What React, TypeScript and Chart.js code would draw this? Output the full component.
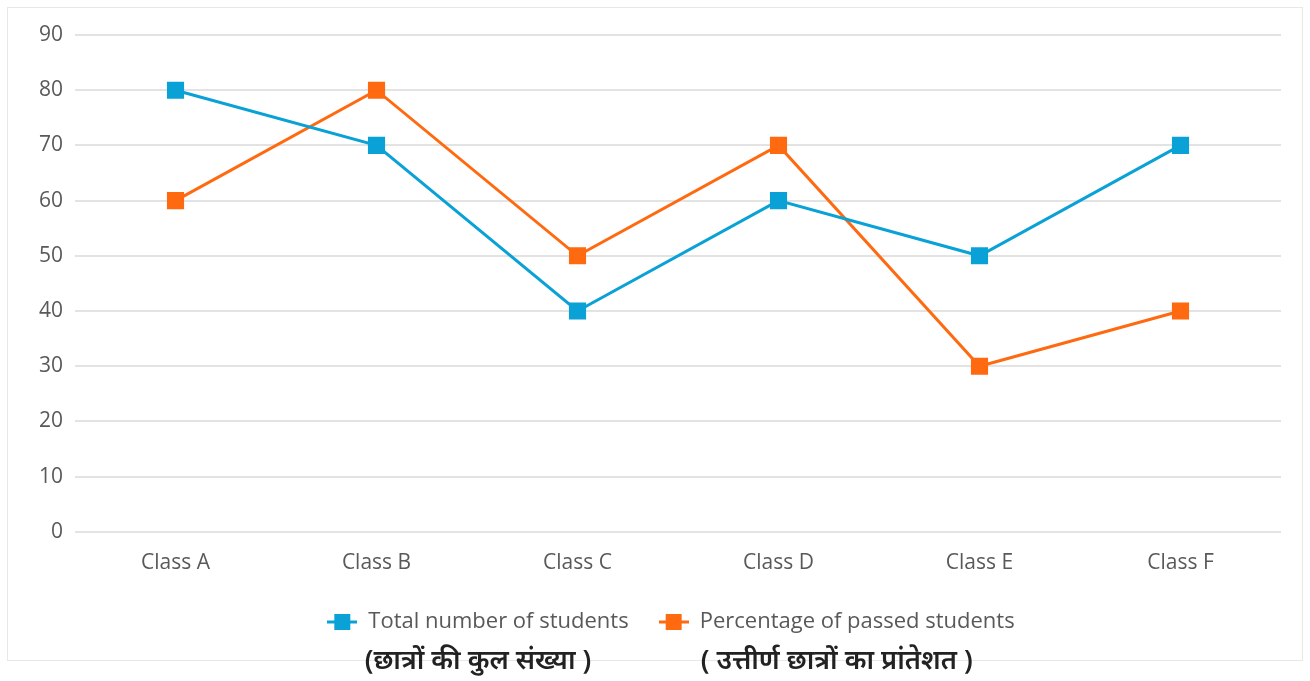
import React, { useEffect, useRef } from "react";
import { Chart, registerables } from "chart.js";

Chart.register(...registerables);

const categories = ["Class A", "Class B", "Class C", "Class D", "Class E", "Class F"];
const totalStudents = [80, 70, 40, 60, 50, 70];
const passedPercent = [60, 80, 50, 70, 30, 40];
const seriesNames = ["Total number of students", "Percentage of passed students"];
const hindiNames = ["(छात्रों की कुल संख्या )", "( उत्तीर्ण छात्रों का प्रांतेशत )"];

const BLUE = "#0aa2d6";
const ORANGE = "#ff6a10";
const FONT = "'Open Sans', 'Noto Sans', sans-serif";
const LEGEND_SHIFT = 17;

function legendMarker(color: string): HTMLCanvasElement {
  const c = document.createElement("canvas");
  c.width = 30;
  c.height = 18;
  const g = c.getContext("2d")!;
  g.strokeStyle = color;
  g.lineWidth = 3;
  g.beginPath();
  g.moveTo(0, 9);
  g.lineTo(30, 9);
  g.stroke();
  g.fillStyle = color;
  g.fillRect(7, 1, 16, 16);
  return c;
}

const framePlugin = {
  id: "frame",
  afterLayout(chart: any) {
    const lg = chart.legend;
    if (lg) {
      lg.left += LEGEND_SHIFT;
      lg.right += LEGEND_SHIFT;
    }
  },
  beforeDraw(chart: any) {
    const ctx = chart.ctx;
    ctx.save();
    ctx.fillStyle = "#ffffff";
    ctx.fillRect(0, 0, chart.width, chart.height);
    ctx.strokeStyle = "#e8e8e8";
    ctx.lineWidth = 1;
    ctx.strokeRect(7.5, 7.5, chart.width - 15, 653);
    ctx.restore();
  },
  afterDraw(chart: any) {
    const legend = chart.legend;
    if (!legend || !legend.legendHitBoxes) return;
    const ctx = chart.ctx;
    ctx.save();
    ctx.fillStyle = "#222222";
    ctx.font = `600 27px 'Noto Sans', sans-serif`;
    ctx.textAlign = "center";
    ctx.textBaseline = "middle";
    legend.legendHitBoxes.forEach((box: any, i: number) => {
      const cx = box.left + box.width / 2;
      ctx.fillText(hindiNames[i], cx, 661);
    });
    ctx.restore();
  },
};

export default function App() {
  const ref = useRef<HTMLCanvasElement | null>(null);
  useEffect(() => {
    if (!ref.current) return;
    const markers = [legendMarker(BLUE), legendMarker(ORANGE)];
    const chart = new Chart(ref.current, {
      type: "line",
      data: {
        labels: categories,
        datasets: [
          {
            label: seriesNames[0],
            data: totalStudents,
            borderColor: BLUE,
            backgroundColor: BLUE,
            borderWidth: 3,
            pointStyle: "rect",
            pointRadius: 10,
            pointHoverRadius: 10,
            tension: 0,
          },
          {
            label: seriesNames[1],
            data: passedPercent,
            borderColor: ORANGE,
            backgroundColor: ORANGE,
            borderWidth: 3,
            pointStyle: "rect",
            pointRadius: 10,
            pointHoverRadius: 10,
            tension: 0,
          },
        ],
      },
      options: {
        responsive: false,
        animation: false,
        layout: { padding: { left: 27, right: 29, top: 35, bottom: 38 } },
        plugins: {
          tooltip: { enabled: false },
          legend: {
            position: "bottom",
            labels: {
              usePointStyle: true,
              pointStyleWidth: 30,
              boxHeight: 18,
              padding: 30,
              color: "#595959",
              font: { family: FONT, size: 22 },
              generateLabels(chart: any) {
                const items = Chart.defaults.plugins.legend.labels.generateLabels(chart);
                items.forEach((it: any, i: number) => {
                  it.pointStyle = markers[i];
                });
                return items;
              },
            },
          },
        },
        scales: {
          x: {
            offset: true,
            grid: { display: false, drawTicks: false },
            border: { display: false },
            ticks: { color: "#595959", font: { family: FONT, size: 21 }, padding: 19 },
            afterFit(scale: any) {
              scale.height -= 14;
            },
          },
          y: {
            min: 0,
            max: 90,
            ticks: { stepSize: 10, color: "#595959", font: { family: FONT, size: 21 }, padding: 12 },
            grid: { color: "#e3e3e3", lineWidth: 2, drawTicks: false },
            border: { display: false },
          },
        },
      },
      plugins: [framePlugin],
    });
    return () => chart.destroy();
  }, []);
  return (
    <div style={{ position: "fixed", left: 0, top: 0, width: 1310, height: 681 }}>
      <canvas ref={ref} width={1310} height={681} style={{ display: "block" }} />
    </div>
  );
}
